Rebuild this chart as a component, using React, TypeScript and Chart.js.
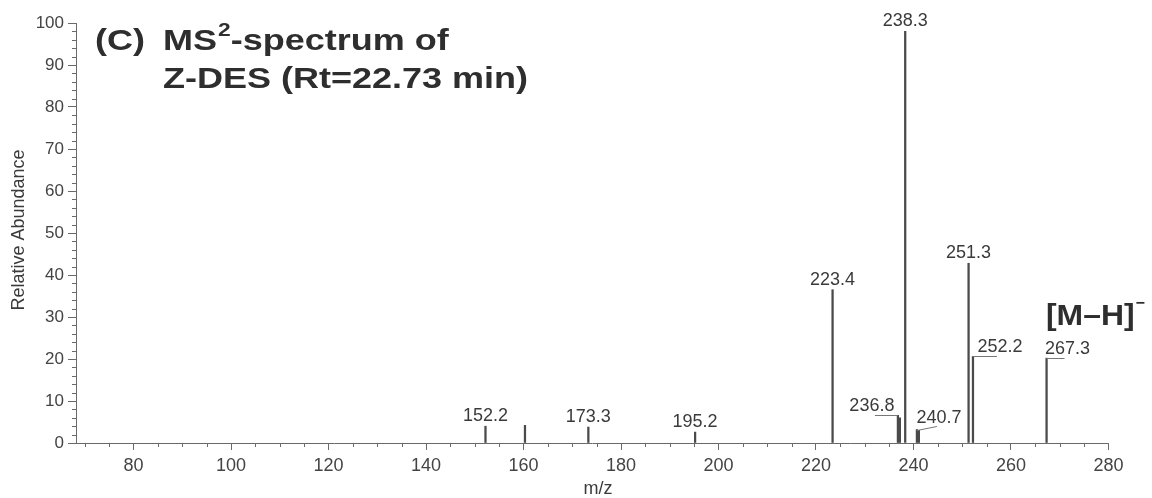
import React, { useEffect, useRef } from 'react';
import { Chart, registerables } from 'chart.js';

Chart.register(...registerables);

// ---- data ----
const peakMz = [152.2, 160.3, 173.3, 195.2, 223.4, 236.8, 237.2, 238.3, 240.7, 241.1, 251.3, 252.2, 267.3];
const peakAbundance = [4.0, 4.2, 3.8, 2.6, 36.5, 6.6, 6.0, 98.0, 3.2, 3.0, 42.8, 20.6, 20.2];
const peakLabels = ['152.2', '', '173.3', '195.2', '223.4', '236.8', '', '238.3', '240.7', '', '251.3', '252.2', '267.3'];
const xTickValues = [80, 100, 120, 140, 160, 180, 200, 220, 240, 260, 280];
const yTickValues = [0, 10, 20, 30, 40, 50, 60, 70, 80, 90, 100];
const xAxisTitle = 'm/z';
const yAxisTitle = 'Relative Abundance';
const titleLine1 = ['(C)', 'MS', '2', '-spectrum of'];
const titleLine2 = 'Z-DES (Rt=22.73 min)';
const ionLabel = '[M–H]';
const ionCharge = '−';

// ---- styles ----
const FONT = '"Liberation Sans", Arial, Helvetica, sans-serif';
const INK = '#3a3a3a';
const AXIS = '#6a6a6a';
const X_MIN = 68.2;
const X_MAX = 279.9;
const X_MINOR = 5;
const Y_MINOR = 2;

type Place = { dx: number; dy: number; lx?: number; ly?: number };
const labelPlacement: Record<string, Place> = {
  '236.8': { dx: -26, dy: -4, lx: -23, ly: 0 },
  '240.7': { dx: 22, dy: -7, lx: 20, ly: -4 },
  '252.2': { dx: 27, dy: -4, lx: 24, ly: 0 },
  '267.3': { dx: 21, dy: -4, lx: 18, ly: 0 },
};
const defaultPlace: Place = { dx: 0, dy: -5 };

function stretchText(ctx: CanvasRenderingContext2D, text: string, x: number, y: number, font: string, sx: number, align: CanvasTextAlign = 'left') {
  ctx.save();
  ctx.font = font;
  ctx.textAlign = align;
  ctx.textBaseline = 'alphabetic';
  ctx.translate(x, y);
  ctx.scale(sx, 1);
  ctx.fillText(text, 0, 0);
  const w = ctx.measureText(text).width * sx;
  ctx.restore();
  return w;
}

const decorPlugin = {
  id: 'decor',
  afterDraw(chart: any) {
    const ctx: CanvasRenderingContext2D = chart.ctx;
    const xs = chart.scales.x;
    const ys = chart.scales.y;
    const area = chart.chartArea;
    ctx.save();
    // minor ticks
    ctx.strokeStyle = AXIS;
    ctx.lineWidth = 1;
    ctx.beginPath();
    for (let v = Math.ceil(X_MIN / X_MINOR) * X_MINOR; v <= X_MAX; v += X_MINOR) {
      if (v % 20 === 0) continue;
      const px = Math.round(xs.getPixelForValue(v)) + 0.5;
      ctx.moveTo(px, area.bottom);
      ctx.lineTo(px, area.bottom + 4);
    }
    for (let v = 0; v <= 100; v += Y_MINOR) {
      if (v % 10 === 0) continue;
      const py = Math.round(ys.getPixelForValue(v)) + 0.5;
      ctx.moveTo(area.left - 4, py);
      ctx.lineTo(area.left, py);
    }
    ctx.stroke();

    // peak labels
    ctx.fillStyle = INK;
    peakLabels.forEach((lab, i) => {
      if (!lab) return;
      const px = xs.getPixelForValue(peakMz[i]);
      const py = ys.getPixelForValue(peakAbundance[i]);
      const p = labelPlacement[lab] || defaultPlace;
      if (p.lx !== undefined) {
        ctx.beginPath();
        ctx.strokeStyle = '#777';
        ctx.lineWidth = 1;
        ctx.moveTo(px, Math.round(py) + 0.5);
        ctx.lineTo(px + p.lx, Math.round(py + (p.ly || 0)) + 0.5);
        ctx.stroke();
      }
      stretchText(ctx, lab, px + p.dx, py + p.dy, `18px ${FONT}`, 1.0, 'center');
    });

    // axis titles
    ctx.fillStyle = INK;
    stretchText(ctx, xAxisTitle, (area.left + area.right) / 2 + 6, 494, `18px ${FONT}`, 1.0, 'center');
    ctx.save();
    ctx.translate(24, (area.top + area.bottom) / 2 - 3);
    ctx.rotate(-Math.PI / 2);
    ctx.font = `18px ${FONT}`;
    ctx.textAlign = 'center';
    ctx.fillText(yAxisTitle, 0, 0);
    ctx.restore();

    // title
    ctx.fillStyle = '#2e2e2e';
    const tf = `bold 30px ${FONT}`;
    stretchText(ctx, titleLine1[0], 95, 50, tf, 1.2);
    let x = 163;
    x += stretchText(ctx, titleLine1[1], x, 50, tf, 1.2);
    x += stretchText(ctx, titleLine1[2], x + 1, 36, `bold 19px ${FONT}`, 1.2) + 1;
    stretchText(ctx, titleLine1[3], x, 50, tf, 1.2);
    stretchText(ctx, titleLine2, 163, 88, tf, 1.2);

    // ion label
    const iw = stretchText(ctx, ionLabel, 1046, 325, `bold 29px ${FONT}`, 1.1);
    stretchText(ctx, ionCharge, 1046 + iw + 1, 308, `bold 16px ${FONT}`, 1.0);
    ctx.restore();
  },
};

export default function App() {
  const ref = useRef<HTMLCanvasElement | null>(null);
  useEffect(() => {
    if (!ref.current) return;
    const chart = new Chart(ref.current, {
      type: 'bar',
      data: {
        datasets: [
          {
            data: peakMz.map((m, i) => ({ x: m, y: peakAbundance[i] })),
            backgroundColor: '#4a4a4a',
            borderWidth: 0,
            barThickness: 1.6,
          } as any,
        ],
      },
      options: {
        animation: false,
        responsive: false,
        devicePixelRatio: 1,
        layout: { padding: { top: 23, right: 44, left: 0, bottom: 0 } },
        plugins: { legend: { display: false }, tooltip: { enabled: false }, title: { display: false } },
        scales: {
          x: {
            type: 'linear',
            offset: false,
            min: X_MIN,
            max: X_MAX,
            afterBuildTicks: (s: any) => { s.ticks = xTickValues.map((v) => ({ value: v })); },
            afterFit: (s: any) => { s.height = 55; },
            grid: { offset: false, drawOnChartArea: false, drawTicks: true, tickLength: 7, color: AXIS },
            border: { color: AXIS, width: 1 },
            ticks: { color: '#444', padding: 5, font: { size: 18, family: FONT }, callback: (v: any) => String(v), maxRotation: 0, autoSkip: false },
          },
          y: {
            type: 'linear',
            min: 0,
            max: 100,
            afterBuildTicks: (s: any) => { s.ticks = yTickValues.map((v) => ({ value: v })); },
            afterFit: (s: any) => { s.width = 76; },
            grid: { drawOnChartArea: false, drawTicks: true, tickLength: 8, color: AXIS },
            border: { color: AXIS, width: 1 },
            ticks: { color: '#444', padding: 4, font: { size: 17, family: FONT }, callback: (v: any) => String(v), autoSkip: false },
          },
        },
      } as any,
      plugins: [decorPlugin],
    });
    return () => chart.destroy();
  }, []);
  return (
    <div style={{ position: 'absolute', left: 0, top: 0, width: 1152, height: 498, background: '#fff' }}>
      <canvas ref={ref} width={1152} height={498} style={{ display: 'block' }} />
    </div>
  );
}
